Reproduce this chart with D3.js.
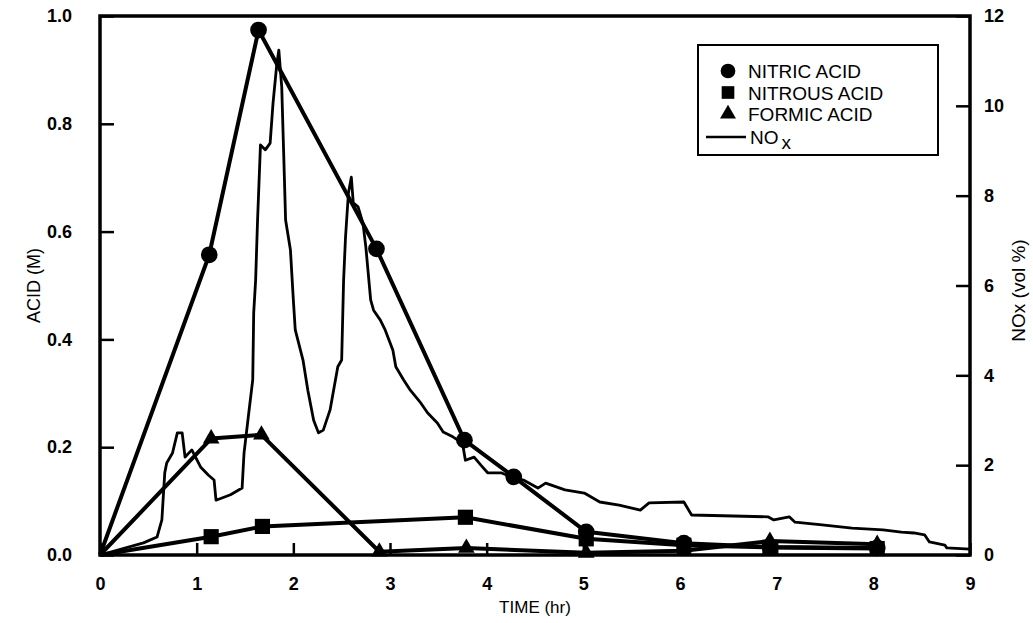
<!DOCTYPE html>
<html>
<head>
<meta charset="utf-8">
<script src="https://cdn.jsdelivr.net/npm/d3@7"></script>
<style>
  body { margin: 0; background: #fff; }
  svg { display: block; font-family: "Liberation Sans", Arial, Helvetica, sans-serif; }
</style>
</head>
<body>
<svg id="chart" width="1033" height="623"></svg>
<script>
// acid series (M)
const nitricTime = [0, 1.13, 1.64, 2.86, 3.77, 4.28, 5.03, 6.04, 6.93, 8.04];
const nitricAcid = [0, 0.557, 0.974, 0.568, 0.213, 0.145, 0.043, 0.022, 0.015, 0.013];

const nitrousTime = [0, 1.15, 1.68, 3.78, 5.03, 6.04, 6.93, 8.04];
const nitrousAcid = [0, 0.034, 0.053, 0.070, 0.030, 0.018, 0.014, 0.012];

const formicTime = [0, 1.15, 1.67, 2.89, 3.79, 5.03, 6.04, 6.93, 8.04];
const formicAcid = [0, 0.216, 0.223, 0.006, 0.013, 0.004, 0.008, 0.026, 0.02];

// NOx trace (vol %), right axis
const noxTime = [0, 0.45, 0.59, 0.64, 0.67, 0.69, 0.75, 0.80, 0.85, 0.88, 0.95, 1.04, 1.12, 1.18, 1.20,
  1.35, 1.47, 1.49, 1.53, 1.58, 1.59, 1.61, 1.63, 1.66, 1.71, 1.76, 1.79, 1.83, 1.85, 1.88, 1.90,
  1.92, 1.97, 2.00, 2.02, 2.10, 2.15, 2.21, 2.26, 2.31, 2.38, 2.46, 2.50, 2.52, 2.54, 2.57, 2.60,
  2.62, 2.67, 2.72, 2.75, 2.80, 2.83, 2.90, 2.95, 3.03, 3.06, 3.14, 3.21, 3.32, 3.39, 3.49, 3.55,
  3.65, 3.75, 3.78, 3.87, 3.94, 4.01, 4.15, 4.25, 4.38, 4.53, 4.61, 4.81, 5.01, 5.17, 5.37, 5.59,
  5.68, 6.04, 6.12, 6.91, 6.97, 7.13, 7.19, 7.47, 7.78, 8.10, 8.29, 8.42, 8.53, 8.58, 8.74, 8.76, 9.0];
const noxValue = [0, 0.27, 0.40, 0.78, 1.83, 2.05, 2.27, 2.72, 2.72, 2.18, 2.34, 1.96, 1.78, 1.67, 1.22,
  1.34, 1.49, 2.27, 3.0, 3.9, 5.39, 6.12, 7.46, 9.13, 9.02, 9.17, 10.06, 10.95, 11.24, 10.42, 8.95,
  7.46, 6.79, 5.68, 5.01, 4.34, 3.67, 3.0, 2.72, 2.78, 3.23, 4.19, 4.34, 6.12, 7.08, 8.06, 8.41,
  7.84, 7.75, 7.39, 6.86, 5.68, 5.45, 5.23, 5.01, 4.56, 4.19, 3.90, 3.67, 3.38, 3.16, 2.94, 2.74,
  2.63, 2.49, 2.11, 2.18, 2.0, 1.83, 1.83, 1.74, 1.67, 1.49, 1.60, 1.45, 1.38, 1.18, 1.11, 1.0,
  1.16, 1.18, 0.89, 0.85, 0.78, 0.85, 0.73, 0.67, 0.60, 0.56, 0.51, 0.49, 0.45, 0.29, 0.22, 0.16, 0.13];

const xTicks = [0, 1, 2, 3, 4, 5, 6, 7, 8, 9];
const acidTicks = [0, 0.2, 0.4, 0.6, 0.8, 1.0];
const noxTicks = [0, 2, 4, 6, 8, 10, 12];

const legendLabels = ['NITRIC ACID', 'NITROUS ACID', 'FORMIC ACID'];

const plotLeft = 100, plotRight = 970, plotTop = 16, plotBottom = 555;
const svg = d3.select('#chart');

const x = d3.scaleLinear().domain([0, 9]).range([plotLeft, plotRight]);
const yAcid = d3.scaleLinear().domain([0, 1]).range([plotBottom, plotTop]);
const yNox = d3.scaleLinear().domain([0, 12]).range([plotBottom, plotTop]);

// NOx trace first so the acid lines sit over it
const noxLine = d3.line().x(d => x(d[0])).y(d => yNox(d[1]));
svg.append('path')
  .datum(d3.zip(noxTime, noxValue))
  .attr('d', noxLine)
  .attr('fill', 'none')
  .attr('stroke', '#000')
  .attr('stroke-width', 2.8)
  .attr('stroke-linejoin', 'round');

const acidLine = d3.line().x(d => x(d[0])).y(d => yAcid(d[1]));
const series = [
  { t: nitricTime, v: nitricAcid, sym: d3.symbolCircle, size: 220 },
  { t: nitrousTime, v: nitrousAcid, sym: d3.symbolSquare, size: 230 },
  { t: formicTime, v: formicAcid, sym: d3.symbolTriangle, size: 120 }
];

series.forEach(s => {
  const pts = d3.zip(s.t, s.v);
  svg.append('path')
    .datum(pts)
    .attr('d', acidLine)
    .attr('fill', 'none')
    .attr('stroke', '#000')
    .attr('stroke-width', 4)
    .attr('stroke-linejoin', 'round');
  svg.append('g')
    .selectAll('path')
    .data(pts.slice(1))
    .enter()
    .append('path')
    .attr('d', d3.symbol().type(s.sym).size(s.size))
    .attr('transform', d => `translate(${x(d[0])},${yAcid(d[1])})`)
    .attr('fill', '#000');
});

// axes, ticks pointing inward
const fontTick = '18px';
const axisLeft = svg.append('g')
  .attr('transform', `translate(${plotLeft},0)`)
  .call(d3.axisLeft(yAcid).tickValues(acidTicks).tickFormat(d3.format('.1f'))
    .tickSizeInner(-14).tickSizeOuter(0).tickPadding(28));
const axisRight = svg.append('g')
  .attr('transform', `translate(${plotRight},0)`)
  .call(d3.axisRight(yNox).tickValues(noxTicks).tickFormat(d3.format('d'))
    .tickSizeInner(-14).tickSizeOuter(0).tickPadding(14));
const axisBottom = svg.append('g')
  .attr('transform', `translate(0,${plotBottom})`)
  .call(d3.axisBottom(x).tickValues(xTicks).tickFormat(d3.format('d'))
    .tickSizeInner(-12).tickSizeOuter(0).tickPadding(22));

[axisLeft, axisRight, axisBottom].forEach(a => {
  a.select('.domain').remove();
  a.selectAll('line').attr('stroke', '#000').attr('stroke-width', 2.5);
  a.selectAll('text')
    .attr('fill', '#000')
    .style('font-size', fontTick)
    .style('font-weight', 'bold')
    .style('font-family', '"Liberation Sans", Arial, sans-serif');
});

// frame
svg.append('rect')
  .attr('x', plotLeft).attr('y', plotTop)
  .attr('width', plotRight - plotLeft).attr('height', plotBottom - plotTop)
  .attr('fill', 'none')
  .attr('stroke', '#000')
  .attr('stroke-width', 3.5);

// axis titles
svg.append('text')
  .attr('transform', `translate(40,${(plotTop + plotBottom) / 2}) rotate(-90)`)
  .attr('text-anchor', 'middle')
  .style('font-size', '18px')
  .text('ACID (M)');
svg.append('text')
  .attr('transform', `translate(1025,${(plotTop + plotBottom) / 2 + 5}) rotate(-90)`)
  .attr('text-anchor', 'middle')
  .style('font-size', '19px')
  .text('NOx (vol %)');
svg.append('text')
  .attr('x', (plotLeft + plotRight) / 2)
  .attr('y', 613)
  .attr('text-anchor', 'middle')
  .style('font-size', '17px')
  .text('TIME (hr)');

// legend
const lg = svg.append('g');
lg.append('rect')
  .attr('x', 698).attr('y', 45)
  .attr('width', 240).attr('height', 110)
  .attr('fill', '#fff')
  .attr('stroke', '#000')
  .attr('stroke-width', 2);

const legendSyms = [d3.symbolCircle, d3.symbolSquare, d3.symbolTriangle];
const legendSizes = [170, 160, 110];
legendLabels.forEach((label, i) => {
  const cy = 71 + i * 21.5;
  lg.append('path')
    .attr('d', d3.symbol().type(legendSyms[i]).size(legendSizes[i]))
    .attr('transform', `translate(728,${cy})`)
    .attr('fill', '#000');
  lg.append('text')
    .attr('x', 748).attr('y', cy + 7)
    .style('font-size', '19px')
    .text(label);
});
lg.append('line')
  .attr('x1', 706).attr('x2', 746)
  .attr('y1', 137).attr('y2', 137)
  .attr('stroke', '#000')
  .attr('stroke-width', 2.5);
const noxText = lg.append('text')
  .attr('x', 750).attr('y', 144)
  .style('font-size', '19px');
noxText.append('tspan').text('NO');
noxText.append('tspan').attr('dx', 3).attr('dy', 5).text('x');
</script>
</body>
</html>
